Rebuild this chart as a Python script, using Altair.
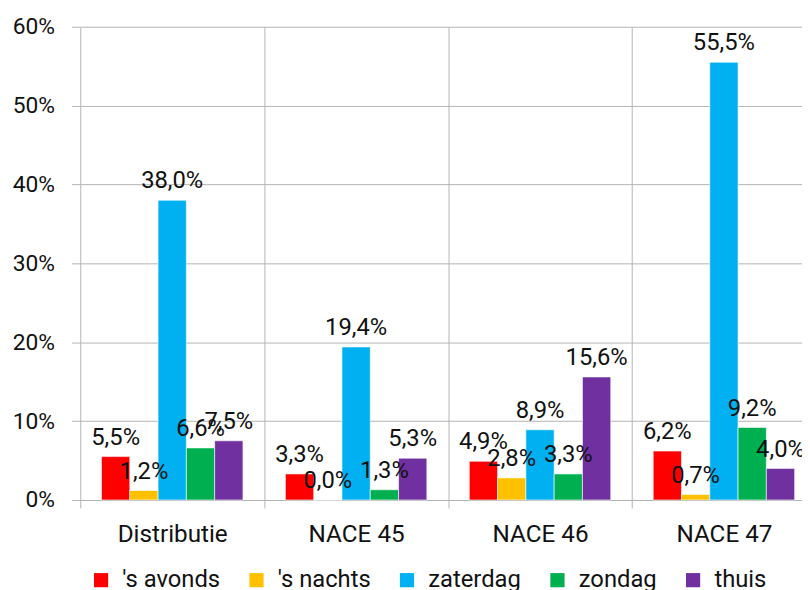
import altair as alt
import pandas as pd

categories = ["Distributie", "NACE 45", "NACE 46", "NACE 47"]
series = ["'s avonds", "'s nachts", "zaterdag", "zondag", "thuis"]
avonds = [5.5, 3.3, 4.9, 6.2]
nachts = [1.2, 0.0, 2.8, 0.7]
zaterdag = [38.0, 19.4, 8.9, 55.5]
zondag = [6.6, 1.3, 3.3, 9.2]
thuis = [7.5, 5.3, 15.6, 4.0]
colors = ["#FF0000", "#FFC000", "#00B0F0", "#00B050", "#7030A0"]
y_ticks = [0, 10, 20, 30, 40, 50, 60]

rows = []
for s, vals in zip(series, [avonds, nachts, zaterdag, zondag, thuis]):
    for c, v in zip(categories, vals):
        rows.append({"cat": c, "serie": s, "value": v})
df = pd.DataFrame(rows)

FONT = "Roboto"
GRID = "#B4B4B4"
TXT = "#111111"

x = alt.X(
    "cat:N",
    sort=categories,
    scale=alt.Scale(paddingInner=0, paddingOuter=0),
    axis=alt.Axis(
        title=None, labelAngle=0, tickBand="extent", grid=True,
        gridColor=GRID, tickColor=GRID, tickSize=8, domainColor=GRID,
        labelFont=FONT, labelFontSize=24.5, labelColor=TXT, labelPadding=15,
    ),
)
xo = alt.XOffset("serie:N", sort=series, scale=alt.Scale(paddingInner=0, paddingOuter=0.75))
y = alt.Y(
    "value:Q",
    scale=alt.Scale(domain=[0, 60], nice=False),
    axis=alt.Axis(
        title=None, values=y_ticks, labelExpr="datum.value + '%'",
        grid=True, gridColor=GRID, tickColor=GRID, tickSize=9, domain=False,
        labelFont=FONT, labelFontSize=23, labelColor=TXT, labelPadding=17,
    ),
)

base = alt.Chart(df)
bars = base.mark_bar(stroke="white", strokeWidth=0.6).encode(
    x=x, xOffset=xo, y=y,
    color=alt.Color(
        "serie:N", sort=series,
        scale=alt.Scale(domain=series, range=colors),
        legend=alt.Legend(
            title=None, orient="none", legendX=9, legendY=547,
            direction="horizontal", symbolType="square", symbolSize=205,
            symbolStrokeWidth=0, labelFont=FONT, labelFontSize=24, labelColor=TXT,
            labelOffset=9.5, columnPadding=24,
        ),
    ),
)
labels = base.transform_calculate(
    lbl="replace(format(datum.value, '.1f'), '.', ',') + '%'"
).mark_text(dy=-19, baseline="middle", font=FONT, fontSize=24, color=TXT).encode(
    x=x, xOffset=xo, y=y, text="lbl:N"
)

chart = (
    alt.layer(bars, labels)
    .properties(
        width=743, height=478,
        autosize=alt.AutoSizeParams(type="none"),
        padding={"left": 73, "top": 16, "right": -14, "bottom": 88},
    )
    .configure_view(stroke=None)
)
chart.save("out.html", embed_options={"renderer": "svg", "actions": False})
